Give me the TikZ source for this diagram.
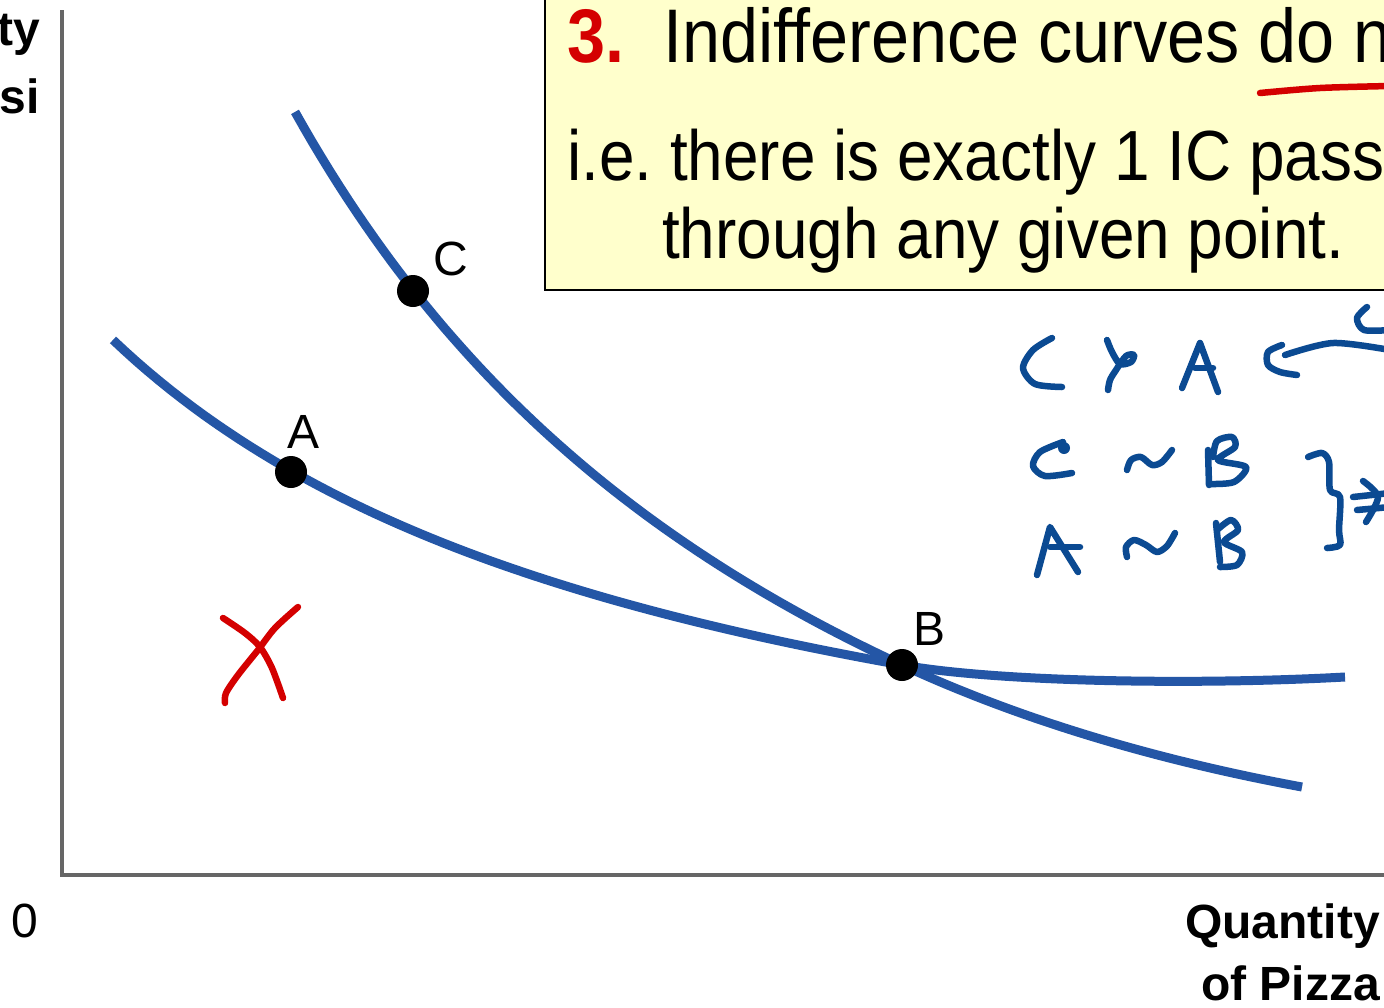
\documentclass[tikz,border=0pt]{standalone}
\usepackage{fontspec}
\setmainfont{Liberation Sans}
\newfontfamily\narrow[FakeStretch=0.9]{Liberation Sans}
\definecolor{curveblue}{HTML}{2456A6}
\definecolor{handblue}{HTML}{0B4A92}
\definecolor{penred}{HTML}{D40000}
\definecolor{boxyellow}{HTML}{FFFFCC}
\definecolor{axisgray}{HTML}{666666}
\tikzset{
  icurve/.style={curveblue, line width=9pt},
  hand/.style={handblue, line width=6.5pt, line cap=round, line join=round},
  redpen/.style={penred, line width=6.5pt, line cap=round, line join=round},
  dot/.style={circle, fill=black, inner sep=0pt, minimum size=32pt},
  ptlabel/.style={inner sep=0pt, font=\fontsize{48}{56}\selectfont},
  axlabel/.style={inner sep=0pt, font=\bfseries\fontsize{48}{56}\selectfont},
  boxtext/.style={inner sep=0pt, font=\narrow\fontsize{71}{80}\selectfont},
  boxtitle/.style={inner sep=0pt, font=\narrow\fontsize{76}{84}\selectfont},
}
\begin{document}
\begin{tikzpicture}[x=1pt, y=-1pt]
\useasboundingbox (0,0) rectangle (1384,1007);
\clip (0,0) rectangle (1384,1007);
\fill[white] (0,0) rectangle (1384,1007);

% axes
\coordinate (ytop) at (62,10);
\coordinate (orig) at (62,875);
\coordinate (xend) at (1390,875);
\draw[axisgray, line width=4pt] (ytop) -- (orig) -- (xend);

% axis labels
\node[ptlabel, anchor=base] (zero) at (25,937) {0};
\node[axlabel, anchor=base east] (qx1) at (1380,938) {Quantity};
\node[axlabel, anchor=base east] (qx2) at (1380,1000) {of Pizza};
\node[axlabel, anchor=base east] (qy1) at (40,45) {ty};
\node[axlabel, anchor=base east] (qy2) at (40,113) {si};

% points
\coordinate (A) at (291,472);
\coordinate (C) at (413,291);
\coordinate (B) at (902,665);
\coordinate (ic1end) at (1302,787);
\coordinate (ic2end) at (1345,677);

% indifference curves
\draw[icurve] plot[domain=295:902, samples=70] (\x, {1239.2 - 710.49/((\x+335.3)/1000)})
  .. controls (1032,725) and (1172,763) .. (ic1end);
\draw[icurve] plot[domain=113:902, samples=70] (\x, {913.1 - 345.196/((\x+489.3)/1000)})
  .. controls (1000,682.4) and (1200,685) .. (ic2end);

\node[dot] (dA) at (A) {};
\node[dot] (dC) at (C) {};
\node[dot] (dB) at (B) {};
\node[ptlabel, anchor=base west] (lA) at (287,448) {A};
\node[ptlabel, anchor=base west] (lC) at (433,275) {C};
\node[ptlabel, anchor=base west] (lB) at (913,645) {B};

% text box
\draw[fill=boxyellow, line width=2.5pt] (545,-10) rectangle (1400,290);
\node[boxtitle, anchor=base west, text=penred, font=\narrow\bfseries\fontsize{76}{84}\selectfont] (num) at (567,62) {3.};
\node[boxtitle, anchor=base west] (t1) at (663,62) {Indifference curves do not};
\node[boxtext, anchor=base west] (t2) at (567,180) {i.e.\ there is exactly 1 IC passing};
\node[boxtext, anchor=base west] (t3) at (662,258) {through any given point.};

% red underline and cross
\draw[redpen] plot[smooth] coordinates {(1260,93) (1320,88) (1390,86)};
\draw[redpen] plot[smooth] coordinates {(223,618) (245,633) (260,647) (272,668) (283,698)};
\draw[redpen] plot[smooth] coordinates {(298,607) (275,628) (258,650) (238,675) (226,693) (225,703)};

% handwriting row 1: C > A <-
\draw[hand] plot[smooth] coordinates {(1052,338) (1033,350) (1023,368) (1035,384) (1062,387)};
\draw[hand] plot[smooth] coordinates {(1107,340) (1112,352) (1120,364) (1131,362) (1134,355) (1126,356) (1116,370) (1110,380) (1108,390)};
\draw[hand] (1182,388) -- (1200,343) -- (1218,392);
\draw[hand] (1195,368) -- (1213,368);
\draw[hand] plot[smooth] coordinates {(1282,345) (1268,352) (1268,365) (1280,372) (1297,375)};
\draw[hand] plot[smooth] coordinates {(1285,355) (1333,343) (1390,350)};
\draw[hand] plot[smooth] coordinates {(1367,307) (1357,318) (1364,330) (1390,330)};

% row 2: C ~ B
\fill[handblue] (1064,448) circle (6pt);
\draw[hand] plot[smooth] coordinates {(1063,442) (1040,452) (1033,466) (1045,476) (1072,473)};
\draw[hand] plot[smooth] coordinates {(1127,470) (1131,460) (1141,457) (1152,465) (1162,462) (1172,450)};
\draw[hand] (1208,450) -- (1209,485);
\draw[hand] plot[smooth] coordinates {(1213,457) (1217,441) (1232,437) (1235,447) (1218,460) (1246,467) (1234,482) (1210,484)};

% row 3: A ~ B
\draw[hand] (1037,575) -- (1050,527) -- (1078,572);
\draw[hand] (1050,547) -- (1080,547);
\draw[hand] plot[smooth] coordinates {(1127,557) (1126,547) (1134,540) (1146,545) (1157,552) (1167,546) (1175,533)};
\draw[hand] (1216,523) -- (1220,562);
\draw[hand] plot[smooth] coordinates {(1217,530) (1231,520) (1238,530) (1224,542) (1242,552) (1237,565) (1220,567)};

% brace and implies arrow
\draw[hand] plot[smooth] coordinates {(1308,457) (1322,453) (1329,462) (1330,490) (1340,497) (1339,530) (1340,545) (1327,548)};
\draw[hand] (1353,497) -- (1390,493);
\draw[hand] (1357,510) -- (1390,507);
\draw[hand] plot[smooth] coordinates {(1363,481) (1378,497) (1366,522)};
\end{tikzpicture}
\end{document}
